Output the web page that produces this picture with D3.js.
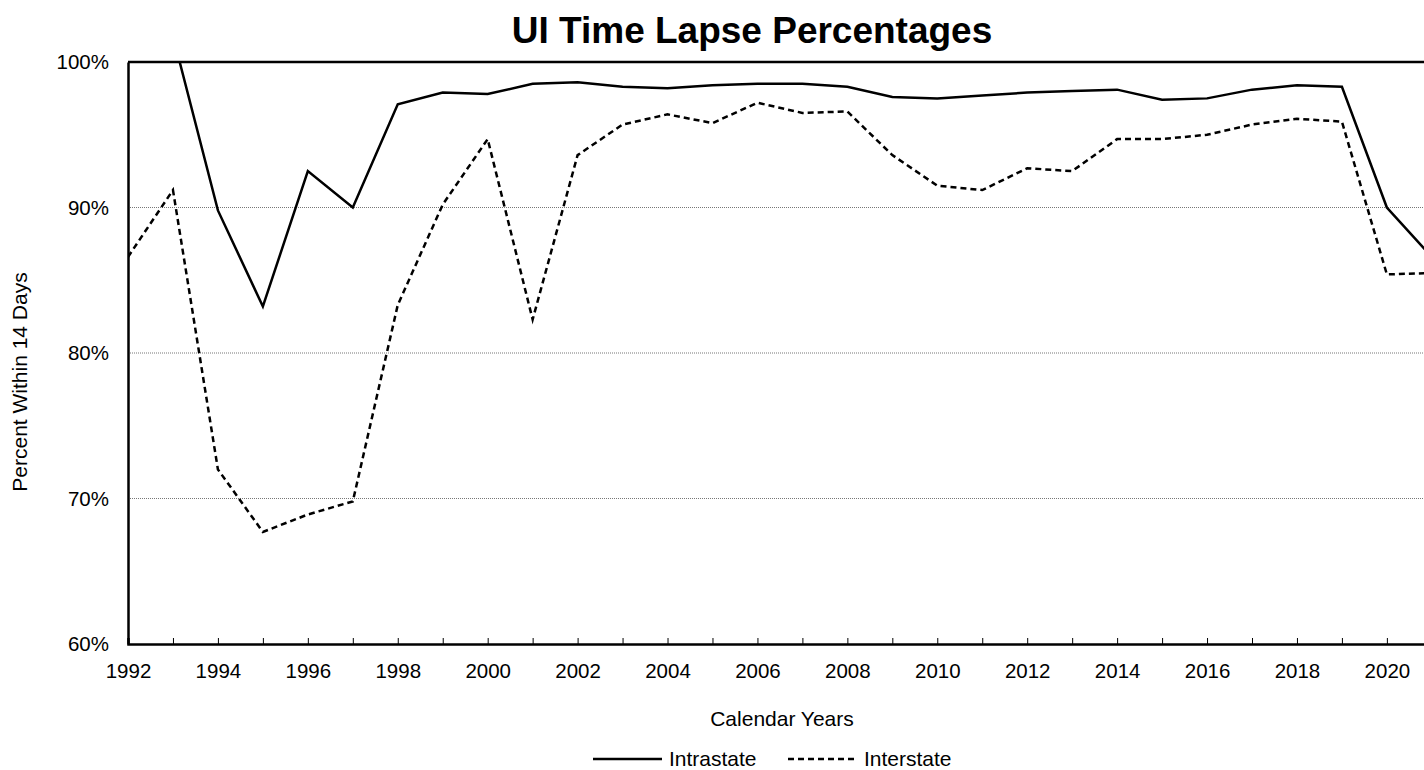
<!DOCTYPE html>
<html>
<head>
<meta charset="utf-8">
<script src="https://cdn.jsdelivr.net/npm/d3@7"></script>
<style>
  body { margin: 0; overflow: hidden; background: #fff; }
  text { font-family: "Liberation Sans", Arial, sans-serif; fill: #000; }
</style>
</head>
<body>
<script>
// data
var years = [1992, 1993, 1994, 1995, 1996, 1997, 1998, 1999, 2000, 2001,
             2002, 2003, 2004, 2005, 2006, 2007, 2008, 2009, 2010, 2011,
             2012, 2013, 2014, 2015, 2016, 2017, 2018, 2019, 2020, 2021];
var intrastate = [null, 101.8, 89.8, 83.2, 92.5, 90.0, 97.1, 97.9, 97.8, 98.5,
                  98.6, 98.3, 98.2, 98.4, 98.5, 98.5, 98.3, 97.6, 97.5, 97.7,
                  97.9, 98.0, 98.1, 97.4, 97.5, 98.1, 98.4, 98.3, 90.0, 86.6];
var interstate = [86.6, 91.2, 72.0, 67.7, 68.9, 69.8, 83.3, 90.2, 94.7, 82.3,
                  93.6, 95.7, 96.4, 95.8, 97.2, 96.5, 96.6, 93.6, 91.5, 91.2,
                  92.7, 92.5, 94.7, 94.7, 95.0, 95.7, 96.1, 95.9, 85.4, 85.5];
var yTicks = [60, 70, 80, 90, 100];
var xLabels = d3.range(1992, 2021, 2);

var width = 1500, height = 770;
var plotLeft = 128, plotTop = 62, plotBottom = 644;

var x = d3.scaleLinear().domain([1992, 2022]).range([plotLeft, plotLeft + 30 * 44.96]);
var y = d3.scaleLinear().domain([60, 100]).range([plotBottom, plotTop]);

var svg = d3.select("body").append("svg")
    .attr("width", width)
    .attr("height", height);

svg.append("defs").append("clipPath").attr("id", "plot")
  .append("rect")
    .attr("x", x.range()[0]).attr("y", plotTop)
    .attr("width", x.range()[1] - x.range()[0]).attr("height", plotBottom - plotTop);

// gridlines
svg.selectAll(".grid")
    .data(yTicks.filter(function(d) { return d > 60 && d < 100; }))
    .enter().append("line")
    .attr("x1", x.range()[0]).attr("x2", x.range()[1])
    .attr("y1", function(d) { return y(d); })
    .attr("y2", function(d) { return y(d); })
    .attr("stroke", "#777")
    .attr("stroke-width", 1)
    .attr("stroke-dasharray", "1,1");

// lines
var line = d3.line()
    .defined(function(d) { return d[1] != null; })
    .x(function(d) { return x(d[0]); })
    .y(function(d) { return y(d[1]); });

svg.append("path")
    .datum(years.map(function(d, i) { return [d, intrastate[i]]; }))
    .attr("clip-path", "url(#plot)")
    .attr("fill", "none")
    .attr("stroke", "#000")
    .attr("stroke-width", 2.5)
    .attr("d", line);

svg.append("path")
    .datum(years.map(function(d, i) { return [d, interstate[i]]; }))
    .attr("clip-path", "url(#plot)")
    .attr("fill", "none")
    .attr("stroke", "#000")
    .attr("stroke-width", 2.5)
    .attr("stroke-dasharray", "6,4")
    .attr("d", line);

// top border
svg.append("line")
    .attr("x1", x.range()[0]).attr("x2", x.range()[1])
    .attr("y1", plotTop).attr("y2", plotTop)
    .attr("stroke", "#000").attr("stroke-width", 2.5);

// x axis
var xAxis = svg.append("g")
    .attr("transform", "translate(0," + plotBottom + ")")
    .call(d3.axisBottom(x)
        .tickValues(d3.range(1992, 2023))
        .tickSize(-6)
        .tickFormat(function(d) { return xLabels.indexOf(d) >= 0 ? d : ""; }));
xAxis.select(".domain").attr("stroke-width", 2.5);
xAxis.selectAll(".tick line").attr("stroke-width", 1);
xAxis.selectAll("text")
    .attr("y", 19)
    .attr("dy", "0.71em")
    .style("font-size", "20.5px");

// y axis
var yAxis = svg.append("g")
    .attr("transform", "translate(" + plotLeft + ",0)")
    .call(d3.axisLeft(y)
        .tickValues(yTicks)
        .tickSize(0)
        .tickPadding(19)
        .tickFormat(function(d) { return d + "%"; }));
yAxis.select(".domain").attr("stroke-width", 2.5);
yAxis.selectAll("text").style("font-size", "20.5px");

// titles
svg.append("text")
    .attr("x", 752).attr("y", 43)
    .attr("text-anchor", "middle")
    .style("font-size", "37px")
    .style("font-weight", "bold")
    .text("UI Time Lapse Percentages");

svg.append("text")
    .attr("x", 782).attr("y", 726)
    .attr("text-anchor", "middle")
    .style("font-size", "21px")
    .text("Calendar Years");

svg.append("text")
    .attr("transform", "translate(27,382) rotate(-90)")
    .attr("text-anchor", "middle")
    .style("font-size", "21px")
    .text("Percent Within 14 Days");

// legend
var legend = [
  { name: "Intrastate", x: 593, dash: null },
  { name: "Interstate", x: 788, dash: "6,4" }
];
var lg = svg.selectAll(".legend").data(legend).enter().append("g");
lg.append("line")
    .attr("x1", function(d) { return d.x; })
    .attr("x2", function(d) { return d.x + 69; })
    .attr("y1", 759).attr("y2", 759)
    .attr("stroke", "#000").attr("stroke-width", 2.5)
    .attr("stroke-dasharray", function(d) { return d.dash; });
lg.append("text")
    .attr("x", function(d) { return d.x + 76; })
    .attr("y", 766)
    .style("font-size", "21px")
    .text(function(d) { return d.name; });
</script>
</body>
</html>
